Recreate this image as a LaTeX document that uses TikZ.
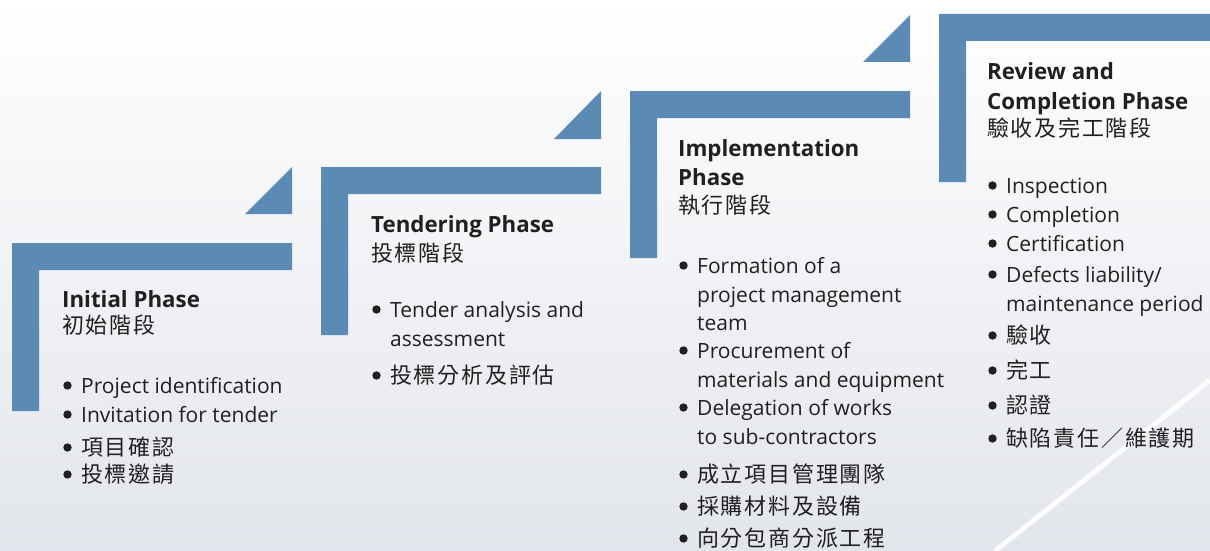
\documentclass[tikz,border=0pt]{standalone}
\usepackage{fontspec}
\setmainfont{Open Sans}
\newfontfamily\cjk[LetterSpace=8]{Noto Sans CJK TC}
\usetikzlibrary{calc}
\definecolor{phaseblue}{RGB}{91,139,180}
\definecolor{ink}{RGB}{35,31,32}
\definecolor{haze}{RGB}{226,229,235}
\newcommand{\bul}{\hspace*{19pt}}
\newcommand{\zh}[1]{{\fontsize{22}{28}\selectfont\cjk #1}}
\tikzset{
  bar/.style = {fill=phaseblue, draw=none},
  dotmark/.style = {fill=ink, draw=none},
  title/.style = {anchor=base west, inner sep=0pt, text=ink, font=\fontsize{22.3}{29}\selectfont\bfseries},
  cjktitle/.style = {anchor=base west, inner sep=0pt, text=ink, font=\fontsize{22}{29}\selectfont\cjk},
  item/.style = {anchor=base west, inner sep=0pt, text=ink, font=\fontsize{21}{28.8}\selectfont},
}

\begin{document}
\begin{tikzpicture}[x=1pt,y=-1pt]
    \useasboundingbox (0,0) rectangle (1210,551);
    \shade[shading angle=45, top color=white, middle color=white, bottom color=haze] (0,0) rectangle (1210,551);
    \draw[white, line width=5pt, opacity=.9] (995,551) -- (1210,380);

    % L-shaped bars and corner triangles
    \fill[bar] (12,243) -- (292,243) -- (292,270) -- (39,270) -- (39,411) -- (12,411) -- cycle;
    \fill[bar] (245,214) -- (292,214) -- (292,167) -- cycle;
    \fill[bar] (321,167) -- (601,167) -- (601,194) -- (348,194) -- (348,335) -- (321,335) -- cycle;
    \fill[bar] (554,139) -- (601,139) -- (601,91) -- cycle;
    \fill[bar] (630,91) -- (910,91) -- (910,118) -- (657,118) -- (657,258) -- (630,258) -- cycle;
    \fill[bar] (863,62) -- (910,62) -- (910,15) -- cycle;
    \fill[bar] (939,14) -- (1210,14) -- (1210,41) -- (966,41) -- (966,182) -- (939,182) -- cycle;

    % Initial Phase
    \node[title] at (62,307) (init) {Initial Phase};
    \node[cjktitle] at (62,333) (initzh) {初始階段};
    \node[item] at (62,393) (init1) {\bul Project identification};
    \node[item] at (62,422) (init2) {\bul Invitation for tender};
    \node[item] at (62,455) (init3) {\bul\zh{項目確認}};
    \node[item] at (62,482) (init4) {\bul\zh{投標邀請}};

    % Tendering Phase
    \node[title] at (371,232) (tender) {Tendering Phase};
    \node[cjktitle] at (371,261) (tenderzh) {投標階段};
    \node[item] at (371,317) (tender1) {\bul Tender analysis and};
    \node[item] at (390,346) (tender1b) {assessment};
    \node[item] at (371,383) (tender2) {\bul\zh{投標分析及評估}};

    % Implementation Phase
    \node[title] at (678,156) (impl) {Implementation};
    \node[title] at (678,185) (implb) {Phase};
    \node[cjktitle] at (678,213) (implzh) {執行階段};
    \node[item] at (678,273) (impl1) {\bul Formation of a};
    \node[item] at (697,302) (impl1b) {project management};
    \node[item] at (697,330) (impl1c) {team};
    \node[item] at (678,358) (impl2) {\bul Procurement of};
    \node[item] at (697,387) (impl2b) {materials and equipment};
    \node[item] at (678,415) (impl3) {\bul Delegation of works};
    \node[item] at (697,444) (impl3b) {to sub-contractors};
    \node[item] at (678,482) (impl4) {\bul\zh{成立項目管理團隊}};
    \node[item] at (678,514) (impl5) {\bul\zh{採購材料及設備}};
    \node[item] at (678,546) (impl6) {\bul\zh{向分包商分派工程}};

    % Review and Completion Phase
    \node[title] at (987,80) (review) {Review and};
    \node[title] at (987,109) (reviewb) {Completion Phase};
    \node[cjktitle] at (987,136) (reviewzh) {驗收及完工階段};
    \node[item] at (987,193) (review1) {\bul Inspection};
    \node[item] at (987,222) (review2) {\bul Completion};
    \node[item] at (987,251) (review3) {\bul Certification};
    \node[item] at (987,282) (review4) {\bul Defects liability/};
    \node[item] at (1006,311) (review4b) {maintenance period};
    \node[item] at (987,343) (review5) {\bul\zh{驗收}};
    \node[item] at (987,378) (review6) {\bul\zh{完工}};
    \node[item] at (987,413) (review7) {\bul\zh{認證}};
    \node[item] at (987,446) (review8) {\bul\zh{缺陷責任／維護期}};

    % bullets
    \foreach \n in {init1,init2,init3,init4,tender1,tender2,impl1,impl2,impl3,impl4,impl5,impl6,
                    review1,review2,review3,review4,review5,review6,review7,review8}
        \fill[dotmark] ($(\n.base west)+(5.5,-7.5)$) circle (4.2pt);

\end{tikzpicture}
\end{document}
